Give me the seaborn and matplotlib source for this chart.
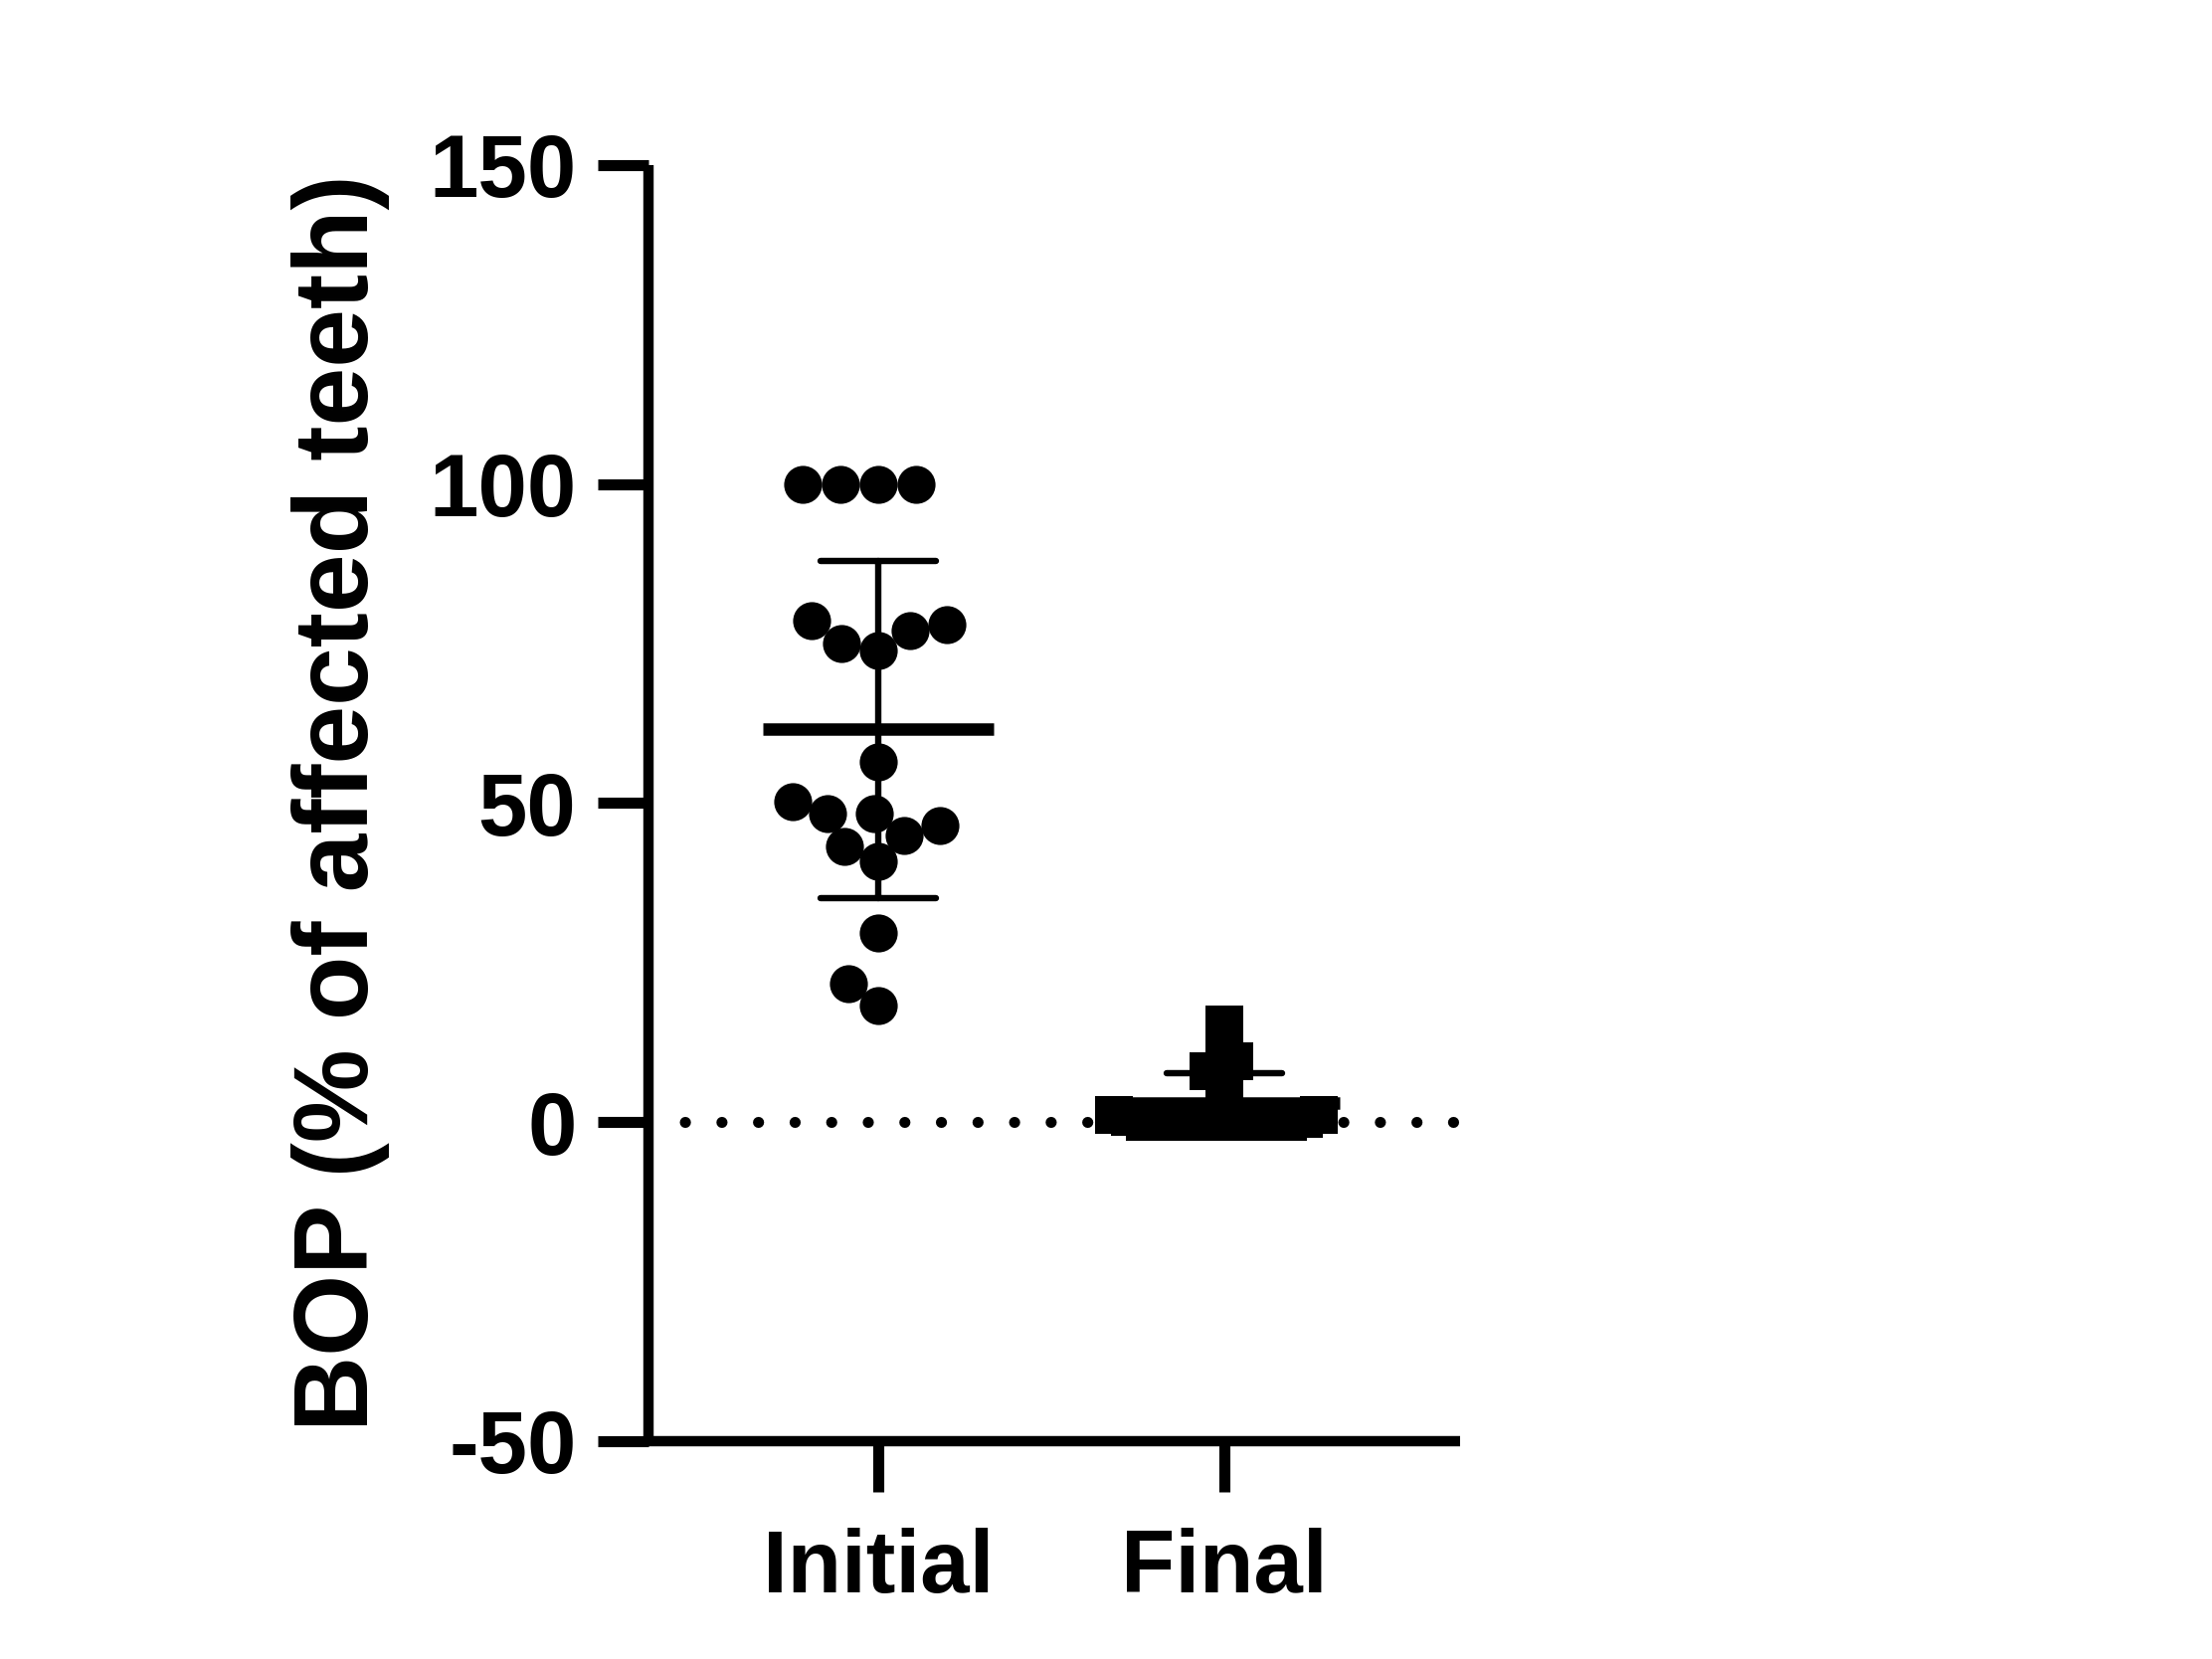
"""BOP scatter (Initial vs Final) with mean and SD."""
import matplotlib

matplotlib.use("Agg")
import matplotlib.pyplot as plt
import pandas as pd
import seaborn as sns

# data
groups = ["Initial", "Final"]
initial_bop = [100, 100, 100, 100, 78.6, 77.0, 74.0, 77.9, 75.0, 56.4,
               50.3, 48.3, 48.3, 46.5, 44.9, 43.2, 40.8, 29.6, 21.7, 18.2]
final_bop = [15.3, 11.8, 9.5, 8.0, 7.6, 3.3, 1.2, 1.1, 0.8, 0.5,
             0, 0, 0, 0, 0, 0, 0, 0, 0, 0]
y_ticks = [-50, 0, 50, 100, 150]
y_label = "BOP (% of affected teeth)"

sns.set_style("ticks")
plt.rcParams["font.family"] = ["Liberation Sans", "DejaVu Sans"]
plt.rcParams["font.weight"] = "bold"
plt.rcParams["axes.unicode_minus"] = False
for key in ("text.color", "axes.labelcolor", "xtick.color", "ytick.color",
            "axes.edgecolor"):
    plt.rcParams[key] = "black"

df = pd.DataFrame({
    "group": ["Initial"] * len(initial_bop) + ["Final"] * len(final_bop),
    "bop": initial_bop + final_bop,
})

fig = plt.figure(figsize=(22.24, 16.68), dpi=100)
ax = fig.add_axes([0.293, 0.1313, 0.367, 0.7692])

# dotted zero line
ax.axhline(0, color="black", linewidth=8, linestyle=(0.02, (0.01, 3.3)),
           dash_capstyle="round", zorder=0)

sns.swarmplot(data=df[df.group == "Initial"], x="group", y="bop", order=groups,
              color="black", size=26, marker="o", linewidth=0, ax=ax)
initial_colls = list(ax.collections)
sns.swarmplot(data=df[df.group == "Final"], x="group", y="bop", order=groups,
              color="black", size=11, marker="s", linewidth=0, ax=ax)
final_colls = [c for c in ax.collections if c not in initial_colls]

sns.pointplot(data=df, x="group", y="bop", order=groups, errorbar="sd",
              capsize=0.335, color="black", linestyle="none", marker="_",
              markersize=167, markeredgewidth=9,
              err_kws={"linewidth": 4.6}, ax=ax)

ax.set_xlim(-0.664, 1.68)
ax.set_ylim(-50, 150)
ax.set_yticks(y_ticks)
ax.set_yticklabels([str(t) for t in y_ticks])
ax.set_xlabel("")
ax.set_ylabel(y_label, fontsize=76, fontweight="bold", labelpad=28)
ax.tick_params(axis="both", length=37, width=8, labelsize=64, color="black")
ax.tick_params(axis="y", pad=15)
ax.tick_params(axis="x", pad=26)
for lab in ax.get_xticklabels() + ax.get_yticklabels():
    lab.set_fontweight("bold")

sns.despine(ax=ax)
for side in ("left", "bottom"):
    ax.spines[side].set_linewidth(7.5)
    ax.spines[side].set_color("black")
    ax.spines[side].set_capstyle("butt")

# lay out the swarms, then freeze them and enlarge the markers
# so they touch / overlap like the original
fig.canvas.draw()
for coll in initial_colls:
    coll.__dict__.pop("draw", None)
    coll.set_sizes([27.5 ** 2])
for coll in final_colls:
    coll.__dict__.pop("draw", None)
    coll.set_sizes([28 ** 2])

fig.savefig("out.png", dpi=100, facecolor="white")
